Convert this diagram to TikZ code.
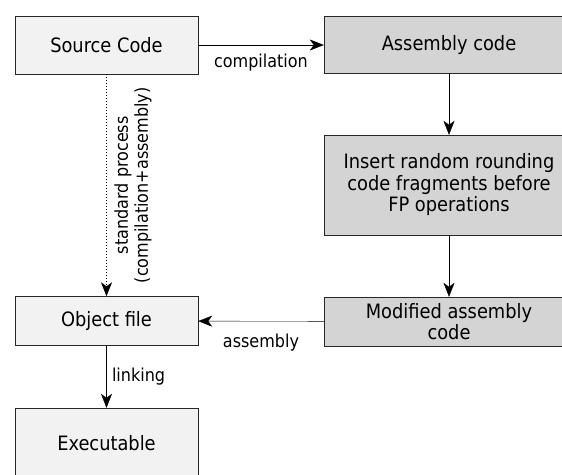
\documentclass[tikz,border=0pt]{standalone}
\usepackage{fontspec}
\setmainfont{DejaVu Sans Condensed}
\usetikzlibrary{positioning,arrows.meta}
\definecolor{lightfill}{RGB}{242,242,242}
\definecolor{darkfill}{RGB}{212,212,212}
\tikzset{
->,
>={Stealth[length=14pt,width=11pt,inset=4pt]},
line width=1.3pt,
box/.style={draw=black!85, fill=lightfill, minimum width=183pt, minimum height=58pt,
  align=center, inner sep=0pt, font=\fontsize{19.8}{21.5}\selectfont},
asmbox/.style={box, fill=darkfill, minimum width=250pt},
lbl/.style={font=\fontsize{17.8}{20}\selectfont},
dots/.style={line width=1pt, dash pattern=on 1pt off 2pt},
}

\begin{document}
\begin{tikzpicture}
    \useasboundingbox (0,0) rectangle (562pt,-474pt);

    \node[box] (src) at (106.5pt,-45pt) {Source Code};
    \node[asmbox,node distance=342.5pt,right of=src,minimum height=57pt] (asm) {Assembly code};
    \node[asmbox,node distance=140pt,below of=asm,minimum height=100pt] (ins) {Insert random rounding\\code fragments before\\FP operations};
    \node[asmbox,node distance=136.5pt,below of=ins,minimum height=49pt] (mod) {Modified assembly\\code};
    \node[box,node distance=276pt,below of=src,minimum height=49pt] (obj) {Object file};
    \node[box,node distance=122pt,below of=obj,minimum height=70pt] (exe) {Executable};

    \draw (src) -- node[lbl,below,yshift=-5pt]{compilation} (asm);
    \draw (asm) -- (ins);
    \draw (ins) -- (mod);
    \draw (mod) -- node[lbl,below,yshift=-9pt]{assembly} (obj);
    \draw (obj) -- node[lbl,right,xshift=2pt]{linking} (exe);
    \draw[dots] (src) -- node[lbl,rotate=90,anchor=north,align=center,yshift=-4pt]{standard process\\(compilation+assembly)} (obj);

\end{tikzpicture}
\end{document}
